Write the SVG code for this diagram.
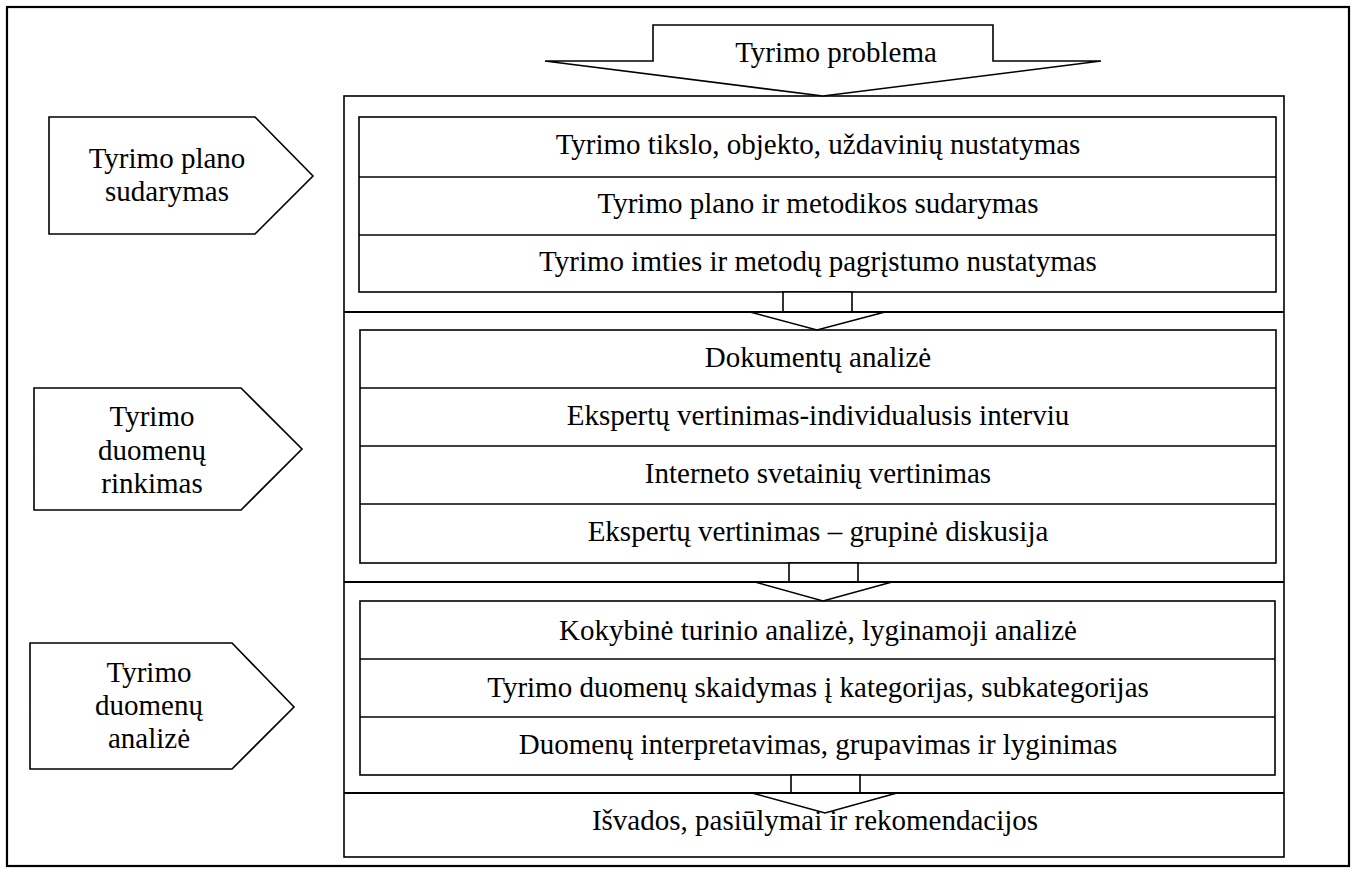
<svg xmlns="http://www.w3.org/2000/svg" width="1358" height="873" viewBox="0 0 1358 873">
<style>
.ln{fill:#fff;stroke:#000;stroke-width:1.6}
.th{fill:none;stroke:#000;stroke-width:2.2}
.t{font-family:"Liberation Serif","Times New Roman",serif;font-size:29px;fill:#000;text-anchor:middle}
</style>
<rect x="0" y="0" width="1358" height="873" fill="#fff"/>
<rect id="frame" x="7" y="7" width="1342" height="859" class="th"/>
<g id="container">
<rect x="344" y="96" width="940" height="761" class="ln"/>
</g>
<g id="stage1">
<rect x="359" y="117" width="917" height="175" class="ln"/>
<line x1="359" y1="177" x2="1276" y2="177" class="ln"/>
<line x1="359" y1="235" x2="1276" y2="235" class="ln"/>
<text class="t" x="818" y="154">Tyrimo tikslo, objekto, uždavinių nustatymas</text>
<text class="t" x="818" y="213">Tyrimo plano ir metodikos sudarymas</text>
<text class="t" x="818" y="271">Tyrimo imties ir metodų pagrįstumo nustatymas</text>
</g>
<g id="stage2">
<rect x="360" y="330" width="916" height="233" class="ln"/>
<line x1="360" y1="388" x2="1276" y2="388" class="ln"/>
<line x1="360" y1="446" x2="1276" y2="446" class="ln"/>
<line x1="360" y1="504" x2="1276" y2="504" class="ln"/>
<text class="t" x="818" y="367">Dokumentų analizė</text>
<text class="t" x="818" y="425">Ekspertų vertinimas-individualusis interviu</text>
<text class="t" x="818" y="483">Interneto svetainių vertinimas</text>
<text class="t" x="818" y="541">Ekspertų vertinimas – grupinė diskusija</text>
</g>
<g id="stage3">
<rect x="360" y="601" width="915" height="174" class="ln"/>
<line x1="360" y1="659" x2="1275" y2="659" class="ln"/>
<line x1="360" y1="717" x2="1275" y2="717" class="ln"/>
<text class="t" x="818" y="640">Kokybinė turinio analizė, lyginamoji analizė</text>
<text class="t" x="818" y="697">Tyrimo duomenų skaidymas į kategorijas, subkategorijas</text>
<text class="t" x="818" y="754">Duomenų interpretavimas, grupavimas ir lyginimas</text>
</g>
<g id="result">
<text class="t" x="815" y="830">Išvados, pasiūlymai ir rekomendacijos</text>
</g>
<g id="phase1">
<polygon class="ln" points="49,117 255,117 313,176 255,234 49,234"/>
<text class="t" x="167" y="168">Tyrimo plano</text>
<text class="t" x="167" y="201">sudarymas</text>
</g>
<g id="phase2">
<polygon class="ln" points="34,388 241,388 302,449 241,510 34,510"/>
<text class="t" x="152" y="426">Tyrimo</text>
<text class="t" x="152" y="460">duomenų</text>
<text class="t" x="152" y="493">rinkimas</text>
</g>
<g id="phase3">
<polygon class="ln" points="30,643 232,643 294,707 232,769 30,769"/>
<text class="t" x="149" y="682">Tyrimo</text>
<text class="t" x="149" y="715">duomenų</text>
<text class="t" x="149" y="748">analizė</text>
</g>
<g id="connectors">
<g id="problem">
<polygon class="ln" points="653,25 993,25 993,61 1101,61 823,96 545,61 653,61"/>
<text class="t" x="836" y="62">Tyrimo problema</text>
</g>
<polygon class="ln" points="783,292 852,292 852,312 885,312 817,330 750,312 783,312"/>
<polygon class="ln" points="789,563 858,563 858,582 892,582 823,601 755,582 789,582"/>
<polygon class="ln" points="791,775 860,775 860,793 897,793 825,813 752,793 791,793"/>
</g>
<g id="dividers">
<line x1="344" y1="312" x2="1284" y2="312" class="th"/>
<line x1="344" y1="582" x2="1284" y2="582" class="th"/>
<line x1="344" y1="793" x2="1284" y2="793" class="th"/>
</g>
</svg>
